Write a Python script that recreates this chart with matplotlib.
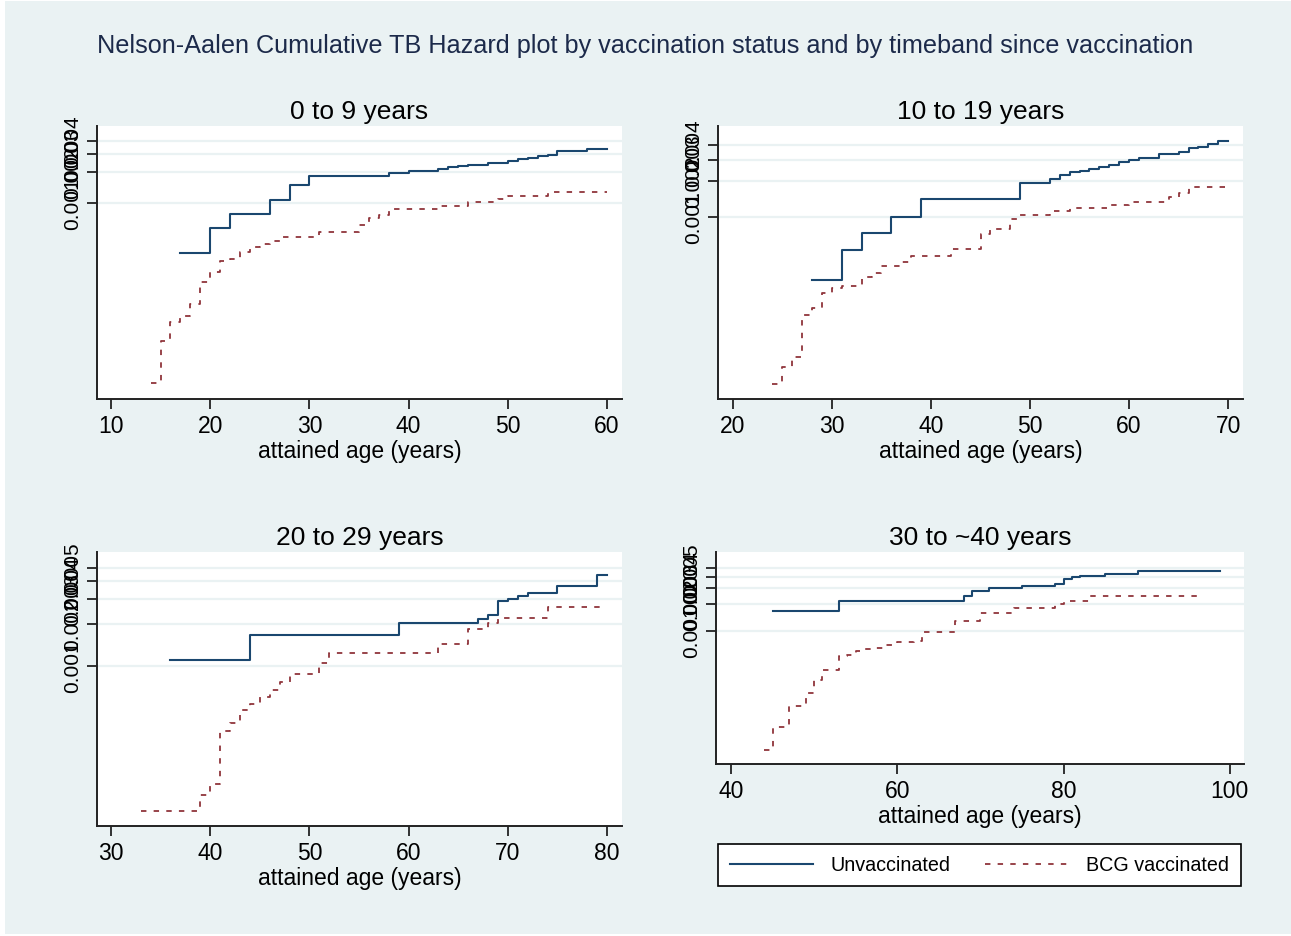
import matplotlib
matplotlib.use("Agg")
import matplotlib.pyplot as plt
from matplotlib.lines import Line2D
from matplotlib.patches import Rectangle

plt.rcParams['font.family'] = ['Liberation Sans', 'DejaVu Sans']

W, H = 1291, 937
BLUE = '#1a476f'
RED = '#90353b'
BG = '#eaf2f3'

title = "Nelson-Aalen Cumulative TB Hazard plot by vaccination status and by timeband since vaccination"
panel_titles = ["0 to 9 years", "10 to 19 years", "20 to 29 years", "30 to ~40 years"]
legend_labels = ["Unvaccinated", "BCG vaccinated"]

# panel 1: 0 to 9 years
unvac_age_1 = [17, 20, 22, 26, 28, 30, 38, 40, 43, 44, 45, 46, 48, 50, 51, 52, 53, 54, 55, 58, 60]
unvac_haz_1 = [0.00033, 0.00057, 0.00078, 0.00107, 0.00150, 0.00183, 0.00194, 0.00206, 0.00214,
               0.00222, 0.00229, 0.00236, 0.00243, 0.00256, 0.00268, 0.00275, 0.00284, 0.00293,
               0.00320, 0.00335, 0.00335]
bcg_age_1 = [14, 15, 16, 17, 18, 19, 20, 21, 22, 23, 24, 25, 26, 27, 31, 35, 36, 37, 38, 43, 46,
             49, 50, 54, 60]
bcg_haz_1 = [0.0000178, 0.0000456, 0.0000698, 0.0000798, 0.000104, 0.000170, 0.000212, 0.000275,
             0.000286, 0.000336, 0.000371, 0.000400, 0.000430, 0.000470, 0.000526, 0.000611,
             0.000710, 0.000765, 0.000874, 0.000929, 0.00102, 0.00109, 0.00116, 0.00129, 0.00129]

# panel 2: 10 to 19 years
unvac_age_2 = [28, 31, 33, 36, 39, 49, 52, 53, 54, 55, 56, 57, 58, 59, 60, 61, 63, 65, 66, 67,
               68, 69, 70]
unvac_haz_2 = [0.000292, 0.00052, 0.000723, 0.00100, 0.00140, 0.00190, 0.00206, 0.00224, 0.00235,
               0.00242, 0.00250, 0.00259, 0.00271, 0.00289, 0.00298, 0.00312, 0.00335, 0.00347,
               0.00374, 0.00386, 0.00407, 0.00434, 0.00434]
bcg_age_2 = [24, 25, 26, 27, 28, 29, 30, 31, 33, 34, 35, 37, 38, 42, 45, 46, 48, 49, 52, 54, 58,
             60, 64, 65, 66, 70]
bcg_haz_2 = [0.0000393, 0.0000550, 0.0000667, 0.000150, 0.000171, 0.000229, 0.000252, 0.000263,
             0.000310, 0.000337, 0.000385, 0.000418, 0.000468, 0.000533, 0.000709, 0.000781,
             0.000955, 0.00104, 0.00112, 0.00118, 0.00125, 0.00132, 0.00145, 0.00159, 0.00176,
             0.00176]

# panel 3: 20 to 29 years
unvac_age_3 = [36, 44, 59, 67, 68, 69, 70, 71, 72, 75, 79, 80]
unvac_haz_3 = [0.00110, 0.00166, 0.00201, 0.00215, 0.00231, 0.00288, 0.00299, 0.00313, 0.00332,
               0.00369, 0.00447, 0.00447]
bcg_age_3 = [33, 39, 40, 41, 42, 43, 44, 45, 46, 47, 48, 51, 52, 63, 66, 68, 69, 74, 79.6]
bcg_haz_3 = [0.000092, 0.000119, 0.000143, 0.000339, 0.000392, 0.000486, 0.000528, 0.000600,
             0.000668, 0.000759, 0.000876, 0.00105, 0.00123, 0.00142, 0.00183, 0.00201, 0.00221,
             0.00261, 0.00261]

# panel 4: 30 to ~40 years
unvac_age_4 = [45, 53, 68, 69, 71, 75, 79, 80, 81, 82, 85, 89, 98.8]
unvac_haz_4 = [0.00167, 0.00215, 0.00246, 0.00276, 0.00298, 0.00319, 0.00333, 0.00382, 0.00399,
               0.00413, 0.00431, 0.00462, 0.00462]
bcg_age_4 = [44, 45, 47, 49, 50, 51, 53, 54, 55, 56, 57.5, 58.7, 60, 62, 63, 67, 70, 74, 79, 80,
             83, 96.2]
bcg_haz_4 = [0.0000466, 0.000083, 0.000145, 0.000199, 0.000281, 0.000366, 0.000517, 0.000535,
             0.000600, 0.000624, 0.000640, 0.000690, 0.000742, 0.000773, 0.000960, 0.00128,
             0.00159, 0.00180, 0.00199, 0.00213, 0.00246, 0.00246]

ytick_vals = [[0.001, 0.002, 0.003, 0.004],
              [0.001, 0.002, 0.003, 0.004],
              [0.001, 0.002, 0.003, 0.004, 0.005],
              [0.001, 0.002, 0.003, 0.004, 0.005]]
xtick_vals = [[10, 20, 30, 40, 50, 60],
              [20, 30, 40, 50, 60, 70],
              [30, 40, 50, 60, 70, 80],
              [40, 60, 80, 100]]
xlims = [(8.6, 61.5), (18.5, 71.5), (28.6, 81.5), (38.2, 101.7)]
ylims = [(1.246e-5, 0.0056), (2.94e-5, 0.00577), (7.14e-5, 0.0065), (3.22e-5, 0.0076)]

# axes boxes in pixels: left, top, right, bottom
boxes = [(97, 127, 622, 400), (718, 127, 1243, 400), (97, 553, 622, 827), (716, 553, 1244, 765)]

series = [(unvac_age_1, unvac_haz_1, bcg_age_1, bcg_haz_1),
          (unvac_age_2, unvac_haz_2, bcg_age_2, bcg_haz_2),
          (unvac_age_3, unvac_haz_3, bcg_age_3, bcg_haz_3),
          (unvac_age_4, unvac_haz_4, bcg_age_4, bcg_haz_4)]

fig = plt.figure(figsize=(W / 100, H / 100), dpi=100, facecolor='white')
fig.patches.append(Rectangle((5 / W, 2 / H), (W - 5) / W, (H - 4) / H, transform=fig.transFigure,
                             facecolor=BG, edgecolor='none', zorder=-10))

fig.text(0.5, 1 - 46 / H, title, ha='center', va='center', fontsize=18.2, color='#1c2a4a')

for i in range(4):
    l, t, r, b = boxes[i]
    ax = fig.add_axes([l / W, 1 - b / H, (r - l) / W, (b - t) / H])
    ax.set_facecolor('white')
    ua, uh, ba, bh = series[i]
    ax.step(ua, uh, where='post', color=BLUE, lw=1.5, zorder=3)
    ax.step(ba, bh, where='post', color=RED, lw=1.3, linestyle=(0, (3, 4)), zorder=3)
    ax.set_yscale('log')
    ax.set_xlim(*xlims[i])
    ax.set_ylim(*ylims[i])
    ax.set_yticks(ytick_vals[i])
    ax.set_yticklabels(['%.3f' % v for v in ytick_vals[i]], rotation=90, va='center')
    ax.minorticks_off()
    ax.set_xticks(xtick_vals[i])
    ax.grid(axis='y', color=BG, lw=1.6, zorder=1)
    for s in ['top', 'right']:
        ax.spines[s].set_visible(False)
    for s in ['left', 'bottom']:
        ax.spines[s].set_color('#222222')
        ax.spines[s].set_linewidth(1.4)
    ax.tick_params(axis='both', direction='out', length=7, width=1.3, color='#222222', pad=4)
    ax.tick_params(axis='x', labelsize=16.5)
    ax.tick_params(axis='y', labelsize=15)
    ax.set_xlabel('attained age (years)', fontsize=16.5, labelpad=1)
    ax.set_title(panel_titles[i], fontsize=19, pad=6)

handles = [Line2D([], [], color=BLUE, lw=1.5),
           Line2D([], [], color=RED, lw=1.3, linestyle=(0, (3, 4)))]
leg = fig.legend(handles, legend_labels, ncol=2, loc='center',
                 bbox_to_anchor=((724 + 1235) / 2 / W, 1 - 866 / H),
                 fontsize=14.2, frameon=True, fancybox=False, handlelength=4.2,
                 handletextpad=0.9, columnspacing=1.75, borderpad=0.6, framealpha=1)
leg.get_frame().set_edgecolor('black')
leg.get_frame().set_facecolor('white')
leg.get_frame().set_linewidth(1.2)

fig.savefig('out.png', dpi=100, facecolor=fig.get_facecolor())
